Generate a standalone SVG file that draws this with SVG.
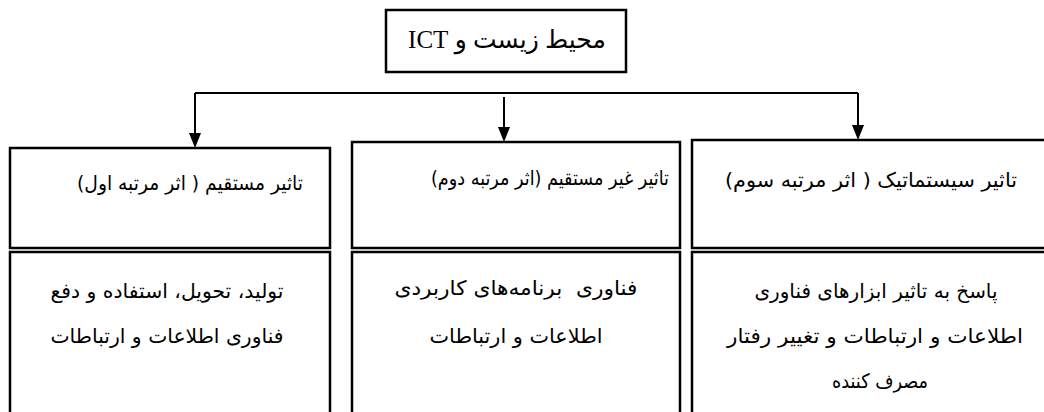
<svg xmlns="http://www.w3.org/2000/svg" width="1044" height="412" viewBox="0 0 1044 412">
<defs>
<style>
.box{fill:#fff;stroke:#000;stroke-width:2.5}
.ln{fill:none;stroke:#000;stroke-width:2}
.ah{fill:#000}
.t{font-family:"DejaVu Sans","Noto Sans",sans-serif;font-size:20px;fill:#000;text-anchor:middle}
.tt{font-family:"Liberation Serif","DejaVu Sans",serif;font-size:25px;fill:#000;text-anchor:middle}
</style>
</defs>
<rect width="1044" height="412" fill="#fff"/>
<g id="connectors">
<path class="ln" d="M195,93 H858"/>
<path class="ln" d="M195,93 V134"/>
<path class="ln" d="M504,97 V128"/>
<path class="ln" d="M858,93 V126"/>
<path class="ah" d="M189,133 L201,133 L195,148 Z"/>
<path class="ah" d="M498,127 L510,127 L504,142 Z"/>
<path class="ah" d="M852,125 L864,125 L858,140 Z"/>
</g>
<g id="root">
<rect class="box" x="386" y="10" width="240" height="62"/>
<text class="tt" x="507" y="48" direction="rtl" unicode-bidi="embed">محیط زیست و ICT</text>
</g>
<g id="h1">
<rect class="box" x="10" y="148" width="320" height="100"/>
<text class="t" x="190" y="190" direction="rtl" textLength="226" lengthAdjust="spacingAndGlyphs">تاثیر مستقیم ( اثر مرتبه اول)</text>
</g>
<g id="h2">
<rect class="box" x="352" y="142" width="328" height="106"/>
<text class="t" x="550" y="185" direction="rtl" textLength="238" lengthAdjust="spacingAndGlyphs">تاثیر غیر مستقیم (اثر مرتبه دوم)</text>
</g>
<g id="h3">
<rect class="box" x="692" y="140" width="360" height="108"/>
<text class="t" x="871" y="187" direction="rtl" textLength="292" lengthAdjust="spacingAndGlyphs">تاثیر سیستماتیک ( اثر مرتبه سوم)</text>
</g>
<g id="b1">
<rect class="box" x="10" y="252" width="320" height="170"/>
<text class="t" x="167" y="298" direction="rtl" textLength="233" lengthAdjust="spacingAndGlyphs">تولید، تحویل، استفاده و دفع</text>
<text class="t" x="167" y="343" direction="rtl" textLength="233" lengthAdjust="spacingAndGlyphs">فناوری اطلاعات و ارتباطات</text>
</g>
<g id="b2">
<rect class="box" x="352" y="252" width="328" height="170"/>
<text class="t" x="516" y="295" direction="rtl" style="white-space:pre" textLength="243" lengthAdjust="spacingAndGlyphs">فناوری  برنامه‌های کاربردی</text>
<text class="t" x="516" y="343" direction="rtl" textLength="173" lengthAdjust="spacingAndGlyphs">اطلاعات و ارتباطات</text>
</g>
<g id="b3">
<rect class="box" x="692" y="252" width="360" height="170"/>
<text class="t" x="876" y="298" direction="rtl" textLength="243" lengthAdjust="spacingAndGlyphs">پاسخ به تاثیر ابزارهای فناوری</text>
<text class="t" x="875" y="343" direction="rtl" textLength="296" lengthAdjust="spacingAndGlyphs">اطلاعات و ارتباطات و تغییر رفتار</text>
<text class="t" x="880" y="388" direction="rtl" textLength="96" lengthAdjust="spacingAndGlyphs">مصرف کننده</text>
</g>
</svg>
